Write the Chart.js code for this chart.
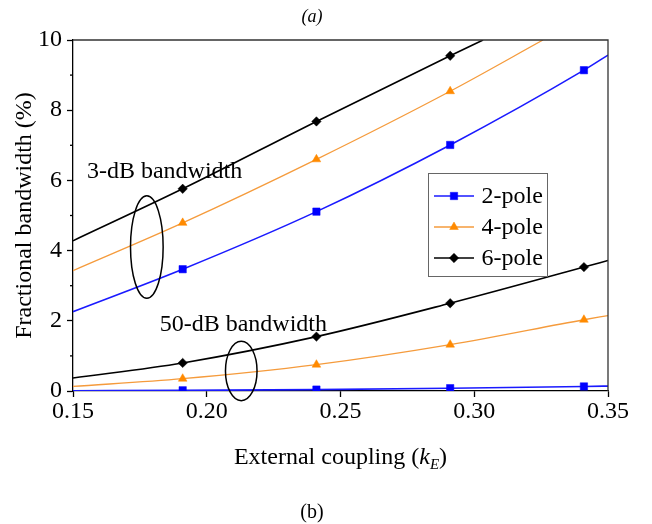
<!DOCTYPE html>
<html>
<head>
<meta charset="utf-8">
<script src="https://cdn.jsdelivr.net/npm/chart.js@4.4.1/dist/chart.umd.min.js"></script>
<style>
  html, body { margin: 0; padding: 0; background: #fff; }
  #chart { display: block; }
</style>
</head>
<body>
<canvas id="chart" width="652" height="524"></canvas>
<script>
// values (external coupling kE vs fractional bandwidth %)
const poleLabels = ['2-pole', '4-pole', '6-pole'];
const bandLabels = ['3-dB bandwidth', '50-dB bandwidth'];

const xTwoPole3dB = [0.15, 0.191, 0.241, 0.291, 0.341, 0.35];
const yTwoPole3dB = [2.26, 3.47, 5.11, 7.01, 9.14, 9.57];
const xFourPole3dB = [0.15, 0.191, 0.241, 0.291, 0.3257];
const yFourPole3dB = [3.43, 4.79, 6.60, 8.54, 10.0];
const xSixPole3dB = [0.15, 0.191, 0.241, 0.291, 0.3033];
const ySixPole3dB = [4.28, 5.76, 7.68, 9.55, 10.0];

const x50dB = [0.15, 0.191, 0.241, 0.291, 0.341, 0.35];
const yTwoPole50dB = [0.005, 0.02, 0.04, 0.08, 0.13, 0.14];
const yFourPole50dB = [0.13, 0.35, 0.75, 1.32, 2.03, 2.15];
const ySixPole50dB = [0.37, 0.80, 1.55, 2.50, 3.53, 3.72];

const markerX = [0.191, 0.241, 0.291, 0.341];
const xTickValues = [0.15, 0.20, 0.25, 0.30, 0.35];
const yTickValues = [0, 2, 4, 6, 8, 10];
const yMinorValues = [1, 3, 5, 7, 9];

const FONT = '"Liberation Serif", "Times New Roman", serif';

const styles = [
  { line: '#1a1aff', mark: '#0000ff', shape: 'rect', r: 5.2, w: 1.6 },
  { line: '#f59b3c', mark: '#ff8a00', shape: 'triangle', r: 5, w: 1.3 },
  { line: '#000000', mark: '#000000', shape: 'rectRot', r: 4.7, w: 1.6 }
];

// ellipse callouts, in data units
const callouts = [
  { cx: 0.1776, cy: 4.10, rx: 0.0061, ry: 1.46, tx: 0.1552, ty: 6.06 },
  { cx: 0.2129, cy: 0.57, rx: 0.0059, ry: 0.845, tx: 0.1824, ty: 1.70 }
];

function series(xs, ys, i) {
  const s = styles[i];
  return {
    label: poleLabels[i],
    data: xs.map((x, k) => ({ x: x, y: ys[k] })),
    borderColor: s.line,
    borderWidth: s.w,
    pointStyle: s.shape,
    pointRadius: xs.map(x => markerX.includes(x) ? s.r : 0),
    pointBackgroundColor: s.mark,
    pointBorderColor: s.mark,
    pointBorderWidth: 0.5,
    legendRadius: s.r,
    cubicInterpolationMode: 'monotone',
    fill: false
  };
}

const overlay = {
  id: 'overlay',
  afterDraw(chart) {
    const { ctx, chartArea: a, scales: { x, y } } = chart;
    ctx.save();

    // top + right frame
    ctx.strokeStyle = '#333';
    ctx.lineWidth = 1.3;
    ctx.beginPath();
    ctx.moveTo(a.left, a.top);
    ctx.lineTo(a.right, a.top);
    ctx.lineTo(a.right, a.bottom);
    ctx.stroke();

    // minor y ticks
    ctx.strokeStyle = '#000';
    yMinorValues.forEach(v => {
      const py = y.getPixelForValue(v);
      ctx.beginPath();
      ctx.moveTo(a.left - 3, py);
      ctx.lineTo(a.left, py);
      ctx.stroke();
    });

    // callout ellipses + labels
    ctx.lineWidth = 1.5;
    ctx.fillStyle = '#000';
    ctx.font = '24px ' + FONT;
    ctx.textAlign = 'left';
    ctx.textBaseline = 'alphabetic';
    callouts.forEach((c, i) => {
      const cx = x.getPixelForValue(c.cx);
      const cy = y.getPixelForValue(c.cy);
      const rx = Math.abs(x.getPixelForValue(c.cx + c.rx) - cx);
      const ry = Math.abs(y.getPixelForValue(c.cy + c.ry) - cy);
      ctx.beginPath();
      ctx.ellipse(cx, cy, rx, ry, 0, 0, Math.PI * 2);
      ctx.stroke();
      ctx.fillText(bandLabels[i], x.getPixelForValue(c.tx), y.getPixelForValue(c.ty));
    });

    // x axis title with italic k and subscript E
    const parts = [
      { t: 'External coupling (', f: '24px ' + FONT, dy: 0 },
      { t: 'k', f: 'italic 24px ' + FONT, dy: 0 },
      { t: 'E', f: 'italic 15px ' + FONT, dy: 5 },
      { t: ')', f: '24px ' + FONT, dy: 0 }
    ];
    let total = 0;
    parts.forEach(p => { ctx.font = p.f; p.w = ctx.measureText(p.t).width; total += p.w; });
    let px = (a.left + a.right) / 2 - total / 2;
    const base = a.bottom + 73;
    parts.forEach(p => {
      ctx.font = p.f;
      ctx.fillText(p.t, px, base + p.dy);
      px += p.w;
    });

    // legend box
    const lx = 428.5, ly = 173.5, lw = 119, lh = 103;
    ctx.fillStyle = '#fff';
    ctx.fillRect(lx, ly, lw, lh);
    ctx.strokeStyle = '#666';
    ctx.lineWidth = 1;
    ctx.strokeRect(lx, ly, lw, lh);
    ctx.font = '24px ' + FONT;
    ctx.textBaseline = 'middle';
    chart.data.datasets.slice(0, 3).forEach((ds, i) => {
      const ry = 196 + i * 31;
      ctx.strokeStyle = ds.borderColor;
      ctx.lineWidth = ds.borderWidth;
      ctx.beginPath();
      ctx.moveTo(434, ry);
      ctx.lineTo(474, ry);
      ctx.stroke();
      ctx.fillStyle = ds.pointBackgroundColor;
      ctx.strokeStyle = ds.pointBorderColor;
      ctx.lineWidth = 0.5;
      Chart.helpers.drawPoint(ctx, { pointStyle: ds.pointStyle, radius: ds.legendRadius, borderWidth: 0.5, rotation: 0 }, 454, ry);
      ctx.fillStyle = '#000';
      ctx.fillText(ds.label, 481.5, ry + 1);
    });

    ctx.restore();
  }
};

new Chart(document.getElementById('chart'), {
  type: 'line',
  data: {
    datasets: [
      series(xTwoPole3dB, yTwoPole3dB, 0),
      series(xFourPole3dB, yFourPole3dB, 1),
      series(xSixPole3dB, ySixPole3dB, 2),
      series(x50dB, yTwoPole50dB, 0),
      series(x50dB, yFourPole50dB, 1),
      series(x50dB, ySixPole50dB, 2)
    ]
  },
  options: {
    responsive: false,
    animation: false,
    devicePixelRatio: 1,
    layout: { padding: { left: 16, right: 44, top: 0, bottom: 0 } },
    plugins: {
      legend: { display: false },
      tooltip: { enabled: false },
      title: {
        display: true,
        text: '(a)',
        color: '#000',
        font: { family: FONT, size: 18, style: 'italic', weight: 'normal', lineHeight: 1.2 },
        padding: { top: 6, bottom: 12.4 }
      },
      subtitle: {
        display: true,
        position: 'bottom',
        text: '(b)',
        color: '#000',
        font: { family: FONT, size: 20, weight: 'normal', lineHeight: 1.1 },
        padding: { top: 20, bottom: 0 }
      }
    },
    scales: {
      x: {
        type: 'linear',
        min: 0.15,
        max: 0.35,
        afterBuildTicks: s => { s.ticks = xTickValues.map(v => ({ value: v })); },
        afterFit: s => { s.height = 91; },
        ticks: {
          callback: v => v.toFixed(2),
          color: '#000',
          font: { family: FONT, size: 24, lineHeight: 1.2 },
          padding: 0,
          maxRotation: 0,
          autoSkip: false
        },
        grid: { display: true, drawOnChartArea: false, drawTicks: true, tickLength: 6, tickColor: '#000', tickWidth: 1.3 },
        border: { display: true, color: '#000', width: 1.3 }
      },
      y: {
        type: 'linear',
        min: 0,
        max: 10,
        afterBuildTicks: s => { s.ticks = yTickValues.map(v => ({ value: v })); },
        afterFit: s => { s.width = 57; },
        ticks: {
          color: '#000',
          font: { family: FONT, size: 24, lineHeight: 1.2 },
          padding: 5
        },
        grid: { display: true, drawOnChartArea: false, drawTicks: true, tickLength: 6, tickColor: '#000', tickWidth: 1.3 },
        border: { display: true, color: '#000', width: 1.3 },
        title: {
          display: true,
          text: 'Fractional bandwidth (%)',
          color: '#000',
          font: { family: FONT, size: 24, lineHeight: 1.2 },
          padding: { top: -5.4, bottom: 0 }
        }
      }
    }
  },
  plugins: [overlay]
});
</script>
</body>
</html>
